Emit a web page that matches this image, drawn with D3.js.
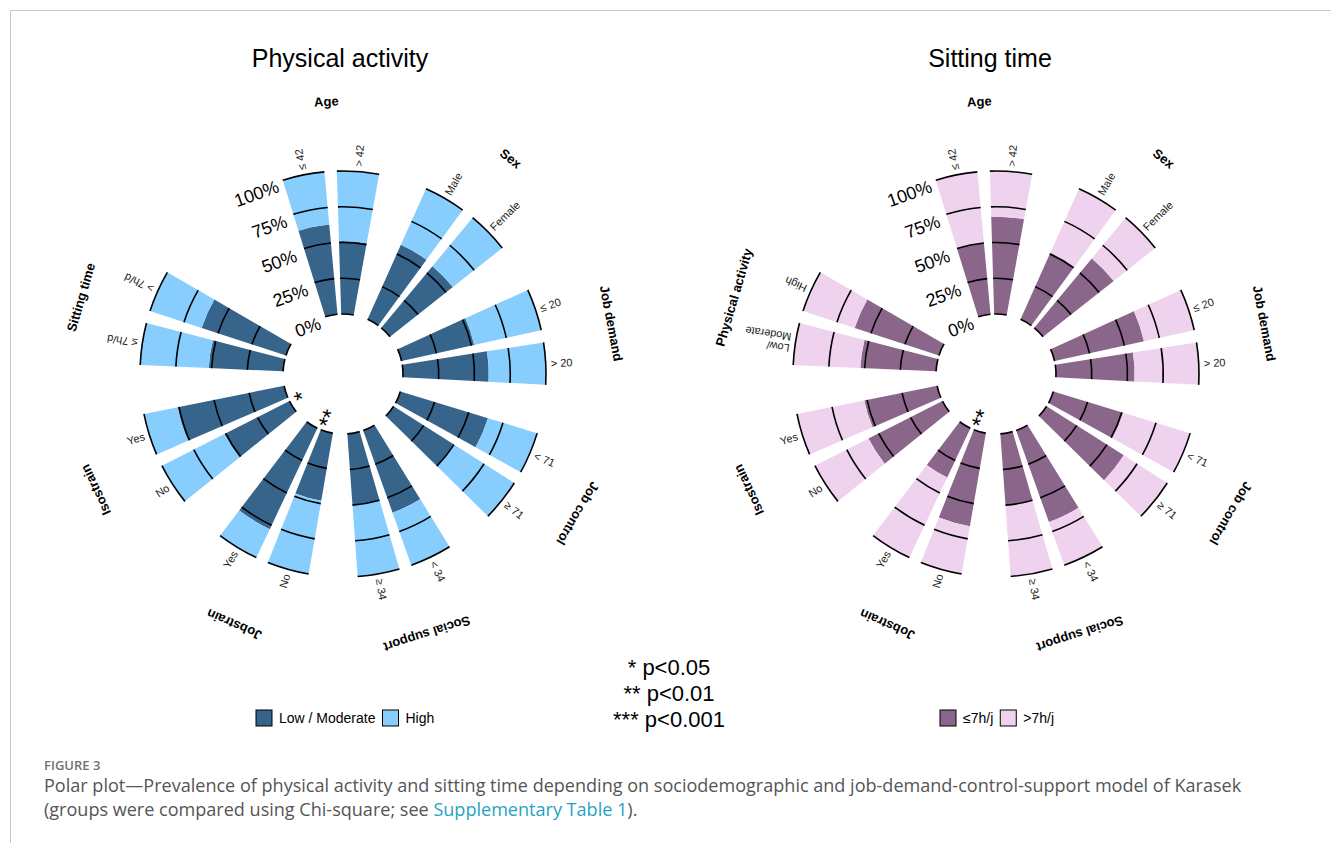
<!DOCTYPE html>
<html>
<head>
<meta charset="utf-8">
<script src="https://cdn.jsdelivr.net/npm/d3@7"></script>
<style>
body{margin:0;background:#fff}
text{font-family:"Liberation Sans",Arial,sans-serif}
text.cap{font-family:"Open Sans",Lato,sans-serif}
</style>
</head>
<body>
<div id="chart"></div>
<script>
// groups (clockwise from top)
var groupsPA = ["Age","Sex","Job demand","Job control","Social support","Jobstrain","Isostrain","Sitting time"];
var groupsST = ["Age","Sex","Job demand","Job control","Social support","Jobstrain","Isostrain","Physical activity"];

// bar categories, two per group
var catsPA = [["≤ 42","> 42"],["Male","Female"],["≤ 20","> 20"],["< 71","≥ 71"],["< 34","≥ 34"],["No","Yes"],["No","Yes"],["≤ 7h/d","> 7h/d"]];
var catsST = [["≤ 42","> 42"],["Male","Female"],["≤ 20","> 20"],["< 71","≥ 71"],["< 34","≥ 34"],["No","Yes"],["No","Yes"],["Low/\nModerate","High"]];

// % in first level (Low/Moderate PA, <=7h/j sitting), rest up to 100%
var lowPA = [63,51, 57,56, 52,60, 64,50, 61,50, 48,78, 51,76, 52,62];
var lowST = [50,68, 51,63, 64,55, 51,64, 68,50, 66,38, 58,52, 53,62];

var starsPA = ["","","","","","**","*",""];
var starsST = ["","","","","","**","",""];

var ticks = [0,25,50,75,100];
var pLabels = ["* p<0.05","** p<0.01","*** p<0.001"];

var width = 1331, height = 843;
var svg = d3.select("#chart").append("svg")
  .attr("width", width).attr("height", height);

// frame
svg.append("line").attr("x1",10.5).attr("y1",10.5).attr("x2",width).attr("y2",10.5)
  .style("stroke","#c8c8c8");
svg.append("line").attr("x1",10.5).attr("y1",10.5).attr("x2",10.5).attr("y2",height)
  .style("stroke","#c8c8c8");

var rad = function(d){ return d * Math.PI / 180; };

// group index -> compass angle (deg)
var angle = d3.scaleLinear().domain([0, 1]).range([-3.5, 37.9]);
var r = d3.scaleLinear().domain([0, 100]).range([60, 203]);
var halfW = 6; // half bar width in degrees

function drawPolar(cx, cy, title, titleX, groups, cats, low, stars, colLow, colHigh, legend, legendX){

  svg.append("text")
    .attr("x", titleX).attr("y", 67)
    .attr("text-anchor","middle")
    .style("font-size","25px")
    .text(title);

  var g = svg.append("g").attr("transform","translate(" + cx + "," + cy + ")");

  var bars = [];
  groups.forEach(function(name, k){
    cats[k].forEach(function(c, b){
      bars.push({group:k, cat:c, v: low[k*2+b], a: angle(k + (b - 0.5) * 0.375)});
    });
  });

  var arc = d3.arc();

  // low part
  g.selectAll(".low").data(bars).enter().append("path")
    .attr("d", function(d){
      return arc({innerRadius:r(0), outerRadius:r(d.v), startAngle:rad(d.a-halfW), endAngle:rad(d.a+halfW)});
    })
    .style("fill", colLow);
  // high part
  g.selectAll(".high").data(bars).enter().append("path")
    .attr("d", function(d){
      return arc({innerRadius:r(d.v), outerRadius:r(100), startAngle:rad(d.a-halfW), endAngle:rad(d.a+halfW)});
    })
    .style("fill", colHigh);

  // grid arcs on each bar
  bars.forEach(function(d){
    ticks.forEach(function(t){
      var p = d3.path();
      p.arc(0, 0, r(t), rad(d.a - halfW - 90), rad(d.a + halfW - 90));
      g.append("path").attr("d", p.toString())
        .style("fill","none").style("stroke","#000").style("stroke-width",1.6);
    });
  });

  // category labels
  bars.forEach(function(d){
    var rr = r(100) + 5;
    var x = rr * Math.sin(rad(d.a)), y = -rr * Math.cos(rad(d.a));
    var flip = d.a > 180 && d.a < 270;
    var rot = flip ? d.a + 90 : d.a - 90;
    var lines = d.cat.split("\n");
    var t = g.append("text")
      .attr("transform","translate(" + x + "," + y + ") rotate(" + rot + ")")
      .attr("text-anchor", flip ? "end" : "start")
      .attr("dominant-baseline","central")
      .style("font-size","11px")
      .style("fill","#222");
    lines.forEach(function(l, i){
      t.append("tspan").attr("x",0)
        .attr("dy", i == 0 ? (-(lines.length-1)*0.5) + "em" : "1.05em")
        .text(l);
    });
  });

  // group labels
  groups.forEach(function(name, k){
    var a = angle(k), rr = 273;
    g.append("text")
      .attr("transform","translate(" + (rr*Math.sin(rad(a))) + "," + (-rr*Math.cos(rad(a))) + ") rotate(" + a + ")")
      .attr("text-anchor","middle")
      .attr("dominant-baseline","central")
      .style("font-size","13px").style("font-weight","bold")
      .text(name);
  });

  // significance stars
  stars.forEach(function(s, k){
    if (!s) return;
    var a = angle(k), rr = s.length > 1 ? 47 : 50;
    var flip = a > 180 && a < 270;
    g.append("text")
      .attr("transform","translate(" + (rr*Math.sin(rad(a))) + "," + (-rr*Math.cos(rad(a))) + ") rotate(" + (flip ? a + 90 : a - 90) + ")")
      .attr("text-anchor","middle")
      .attr("dy","0.55em")
      .style("font-size","23px")
      .text(s);
  });

  // percent axis
  ticks.forEach(function(t){
    var a = -24 + 0.05 * t, rr = r(t) - 4;
    g.append("text")
      .attr("transform","translate(" + (rr*Math.sin(rad(a))) + "," + (-rr*Math.cos(rad(a))) + ") rotate(-20)")
      .attr("text-anchor","end")
      .attr("dominant-baseline","central")
      .style("font-size","18px")
      .text(t + "%");
  });

  // legend
  var lg = svg.append("g").attr("transform","translate(" + legendX + ",710)");
  var xo = 0;
  legend.forEach(function(l, i){
    lg.append("rect").attr("x", xo).attr("y", 0).attr("width",16).attr("height",16)
      .style("fill", i == 0 ? colLow : colHigh).style("stroke","#000").style("stroke-width",1);
    var tx = lg.append("text").attr("x", xo + 23).attr("y", 13)
      .style("font-size","14px").text(l);
    xo += 23 + tx.node().getComputedTextLength() + 7;
  });
}

drawPolar(343, 374, "Physical activity", 340, groupsPA, catsPA, lowPA, starsPA,
  "#36648B", "#87CEFF", ["Low / Moderate","High"], 256);
drawPolar(996, 374, "Sitting time", 990, groupsST, catsST, lowST, starsST,
  "#8B668B", "#EED2EE", ["≤7h/j",">7h/j"], 940);

// p-value key
pLabels.forEach(function(l, i){
  svg.append("text").attr("x", 669).attr("y", 675 + i*26)
    .attr("text-anchor","middle").style("font-size","22px").text(l);
});

// caption
svg.append("text").attr("class","cap").attr("x",44).attr("y",770)
  .style("font-size","13px").style("fill","#707070").style("font-weight","600")
  .text("FIGURE 3");
var l1 = svg.append("text").attr("class","cap").attr("x",44).attr("y",792)
  .style("font-size","16.5px").style("fill","#555")
  .text("Polar plot\u2014Prevalence of physical activity and sitting time depending on sociodemographic and job-demand-control-support model of Karasek");
// fit the caption to the printed width
var fs = 16.5 * 1198 / l1.node().getComputedTextLength();
l1.style("font-size", fs + "px");
var l2 = svg.append("text").attr("class","cap").attr("x",44).attr("y",816)
  .style("font-size", fs + "px").style("fill","#555");
l2.append("tspan").text("(groups were compared using Chi-square; see ");
l2.append("tspan").style("fill","#1fa3c4").text("Supplementary Table 1");
l2.append("tspan").text(").");
</script>
</body>
</html>
